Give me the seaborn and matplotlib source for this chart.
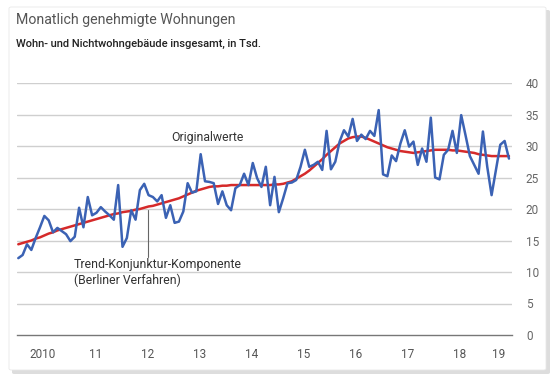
import numpy as np
import pandas as pd
import matplotlib
matplotlib.use("Agg")
import matplotlib.pyplot as plt
from matplotlib.patches import FancyBboxPatch
import seaborn as sns

# Monatswerte Jan 2010 - Jun 2019, in Tsd.
original = [
    12.2, 12.7, 14.4, 13.5, 15.4, 17.1, 18.9, 18.2, 16.3, 17.0, 16.5, 16.0,  # 2010
    14.9, 15.6, 20.2, 17.1, 21.9, 19.0, 19.4, 20.3, 19.6, 19.0, 18.3, 23.8,  # 2011
    14.0, 15.4, 19.8, 18.3, 23.0, 24.0, 22.2, 21.9, 21.2, 22.2, 18.6, 20.6,  # 2012
    17.8, 18.0, 19.6, 24.1, 22.6, 22.8, 28.7, 24.4, 24.3, 24.1, 20.8, 22.8,  # 2013
    20.6, 19.8, 23.3, 23.8, 25.6, 23.8, 27.3, 24.9, 23.5, 26.7, 20.6, 25.1,  # 2014
    19.5, 21.7, 24.1, 24.2, 24.6, 26.7, 29.4, 26.7, 27.0, 27.5, 26.2, 32.4,  # 2015
    26.3, 27.5, 30.7, 32.5, 31.5, 34.3, 30.8, 31.8, 31.1, 32.4, 31.6, 35.7,  # 2016
    25.5, 25.2, 28.5, 27.6, 30.4, 32.5, 29.9, 30.7, 27.0, 29.6, 27.5, 34.5,  # 2017
    25.0, 24.7, 28.6, 29.4, 32.4, 28.9, 34.9, 31.7, 28.4, 27.0, 25.6, 32.3,  # 2018
    26.7, 22.2, 26.2, 30.2, 30.8, 28.0,                                      # 2019
]

trend = [
    14.4, 14.6, 14.8, 15.0, 15.3, 15.5, 15.8, 16.1, 16.3, 16.6, 16.8, 17.0,
    17.2, 17.4, 17.6, 17.8, 18.0, 18.2, 18.4, 18.6, 18.8, 19.0, 19.2, 19.3,
    19.5, 19.6, 19.7, 19.9, 20.0, 20.2, 20.4, 20.5, 20.7, 20.9, 21.1, 21.3,
    21.5, 21.7, 22.0, 22.3, 22.6, 22.9, 23.1, 23.3, 23.5, 23.6, 23.6, 23.7,
    23.7, 23.8, 23.8, 23.8, 23.8, 23.8, 23.8, 23.8, 23.8, 23.8, 23.8, 23.9,
    23.9, 24.0, 24.2, 24.4, 24.8, 25.2, 25.6, 26.1, 26.7, 27.3, 27.9, 28.6,
    29.2, 29.8, 30.4, 30.8, 31.2, 31.4, 31.5, 31.5, 31.3, 31.0, 30.7, 30.4,
    30.1, 29.8, 29.6, 29.4, 29.2, 29.1, 29.0, 28.9, 29.0, 29.1, 29.2, 29.3,
    29.4, 29.4, 29.4, 29.4, 29.3, 29.3, 29.2, 29.1, 29.0, 28.9, 28.7, 28.6,
    28.5, 28.4, 28.4, 28.4, 28.4, 28.4,
]

year_labels = ["2010", "11", "12", "13", "14", "15", "16", "17", "18", "19"]
y_ticks = [0, 5, 10, 15, 20, 25, 30, 35, 40]

BLUE = "#3b62b4"
RED = "#d52a2a"
GRID = "#cfcfcf"
TXT = "#555555"

df = pd.DataFrame({
    "monat": np.arange(len(original)) + 0.3,
    "original": original,
    "trend": trend,
})

sns.set_style("white")
plt.rcParams["font.family"] = ["Roboto", "DejaVu Sans"]

fig = plt.figure(figsize=(5.6, 3.83), dpi=100)
fig.patch.set_facecolor("white")

# Karte mit Schatten
W, H = 560, 383
shadow = FancyBboxPatch((12 / W, 9 / H), 538 / W, 364 / H,
                        boxstyle="round,pad=0,rounding_size=0.004",
                        transform=fig.transFigure, facecolor="#dddddd",
                        edgecolor="none", zorder=0)
card = FancyBboxPatch((9 / W, 13 / H), 537 / W, 363 / H,
                      boxstyle="round,pad=0,rounding_size=0.004",
                      transform=fig.transFigure, facecolor="white",
                      edgecolor="#e8e8e8", linewidth=0.6, zorder=1)
fig.patches.extend([shadow, card])

ax = fig.add_axes([17 / W, 1 - 335 / H, 495 / W, (335 - 83) / H])
ax.set_facecolor("none")
ax.set_zorder(2)

sns.lineplot(data=df, x="monat", y="trend", ax=ax, color=RED, linewidth=1.8, zorder=3)
sns.lineplot(data=df, x="monat", y="original", ax=ax, color=BLUE, linewidth=1.8, zorder=4)

ax.set_xlim(0, 114)
ax.set_ylim(0, 40)

# Gitter
for v in y_ticks[1:]:
    ax.axhline(v, color=GRID, linewidth=1.0, zorder=1)

ax.yaxis.tick_right()
ax.set_yticks(y_ticks)
ax.set_yticklabels([str(v) for v in y_ticks], color="#666666", fontsize=8.5)
ax.tick_params(axis="y", length=0, pad=10)

ax.set_xticks(np.arange(0, 115, 12).tolist() + [114])
ax.set_xticklabels([])
ax.tick_params(axis="x", length=5, width=1, color="#777777", direction="out")
ax.set_xticks([6 + 12 * k for k in range(9)] + [111], minor=True)
ax.set_xticklabels(year_labels, minor=True, color=TXT, fontsize=8.5)
ax.tick_params(axis="x", which="minor", length=0, pad=9)

for side in ["top", "left", "right"]:
    ax.spines[side].set_visible(False)
ax.spines["bottom"].set_color("#777777")
ax.spines["bottom"].set_linewidth(1.0)
ax.set_xlabel("")
ax.set_ylabel("")

# Beschriftungen
ax.text(35.5, 31.4, "Originalwerte", fontsize=8.8, color="#333333", va="center", ha="left")
ax.plot([30.2, 30.2], [12.4, 19.8], color="#666666", linewidth=0.8, zorder=2)
ax.text(13.1, 11.25, "Trend-Konjunktur-Komponente", fontsize=8.8, color="#333333",
        va="center", ha="left")
ax.text(13.1, 8.7, "(Berliner Verfahren)", fontsize=8.8, color="#333333",
        va="center", ha="left")

fig.text(16 / W, 1 - 20 / H, "Monatlich genehmigte Wohnungen", fontsize=10.2,
         color="#555555", va="center", ha="left")
fig.text(16 / W, 1 - 44 / H, "Wohn- und Nichtwohngebäude insgesamt, in Tsd.",
         fontsize=8.0, color="#222222", fontweight="medium", va="center", ha="left")

fig.savefig("out.png", dpi=100, facecolor=fig.get_facecolor())
